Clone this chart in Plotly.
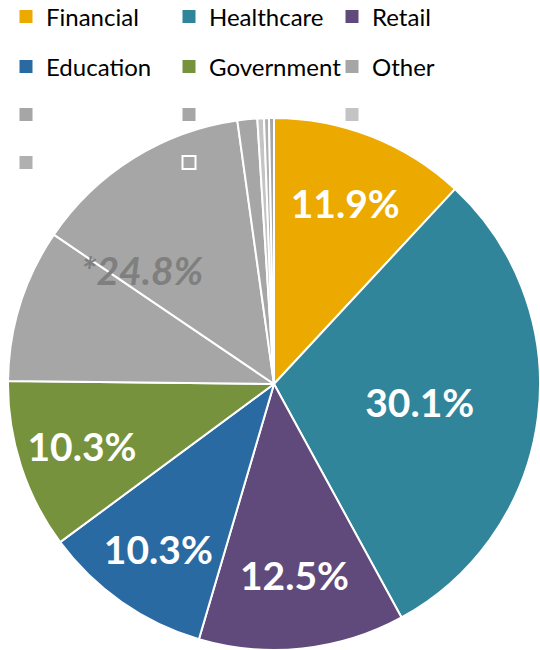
import plotly.graph_objects as go

# ---- data ----
slice_ids = ["Financial", "Healthcare", "Retail", "Education", "Government",
             "Other", "Other 2", "Other 3", "Other 4", "Other 5", "Other 6"]
legend_names = ["Financial", "Healthcare", "Retail", "Education", "Government",
                "Other", " ", " ", " ", " ", " "]
values = [11.9, 30.1, 12.5, 10.3, 10.3, 9.3, 13.3, 1.2, 0.4, 0.3, 0.3]
colors = ["#ECAA00", "#31859B", "#604A7B", "#2A6AA3", "#76923C",
          "#A6A6A6", "#A6A6A6", "#A6A6A6", "#C4C4C4", "#B0B0B0", "#A6A6A6"]
legend_symbols = ["square"] * 10 + ["square-open"]
legend_colors = colors[:10] + ["#FFFFFF"]
show_label = [True] * 5 + [False] * 6
other_total_label = "*24.8%"

W, H = 540, 650
FONT = "Lato"

fig = go.Figure()

fig.add_trace(go.Pie(
    labels=slice_ids,
    values=values,
    sort=False,
    direction="clockwise",
    rotation=0,
    marker=dict(colors=colors, line=dict(color="white", width=2)),
    texttemplate=["%{value:.1f}%" if s else "" for s in show_label],
    textposition="inside",
    insidetextorientation="horizontal",
    textfont=dict(family=FONT, size=39, color="white", weight="bold"),
    showlegend=False,
    hoverinfo="label+value",
    domain=dict(x=[8 / W, 1.0], y=[0.0, 532 / H]),
))

# legend rows (one legend per row, 3 items per row)
row_y = [17, 67, 115, 163]
legend_ids = ["legend", "legend2", "legend3", "legend4"]
for i, (name, col, sym) in enumerate(zip(legend_names, legend_colors, legend_symbols)):
    row = i // 3
    fig.add_trace(go.Scatter(
        x=[None], y=[None], mode="markers", name=name,
        marker=dict(symbol=sym, size=13, color=col,
                    line=dict(color=col, width=2 if sym == "square-open" else 0)),
        legend=legend_ids[row], showlegend=True, hoverinfo="skip",
    ))

layout_legends = {}
for r, lid in enumerate(legend_ids):
    layout_legends[lid] = dict(
        orientation="h", xref="container", yref="container",
        x=6 / W, y=1 - row_y[r] / H, xanchor="left", yanchor="middle",
        entrywidth=118, entrywidthmode="pixels",
        font=dict(family=FONT, size=24, color="#000000"),
        bgcolor="rgba(0,0,0,0)", borderwidth=0, itemclick=False,
        traceorder="normal",
    )

fig.update_layout(
    width=W, height=H,
    margin=dict(l=0, r=0, t=0, b=0, autoexpand=False),
    paper_bgcolor="white", plot_bgcolor="white",
    xaxis=dict(visible=False), yaxis=dict(visible=False),
    annotations=[dict(
        text="<b><i>" + other_total_label + "</i></b>",
        xref="paper", yref="paper", x=142 / W, y=1 - 270 / H,
        xanchor="center", yanchor="middle", showarrow=False,
        font=dict(family=FONT, size=39, color="#7F7F7F"),
    )],
    **layout_legends,
)

fig.write_html("out.html")
